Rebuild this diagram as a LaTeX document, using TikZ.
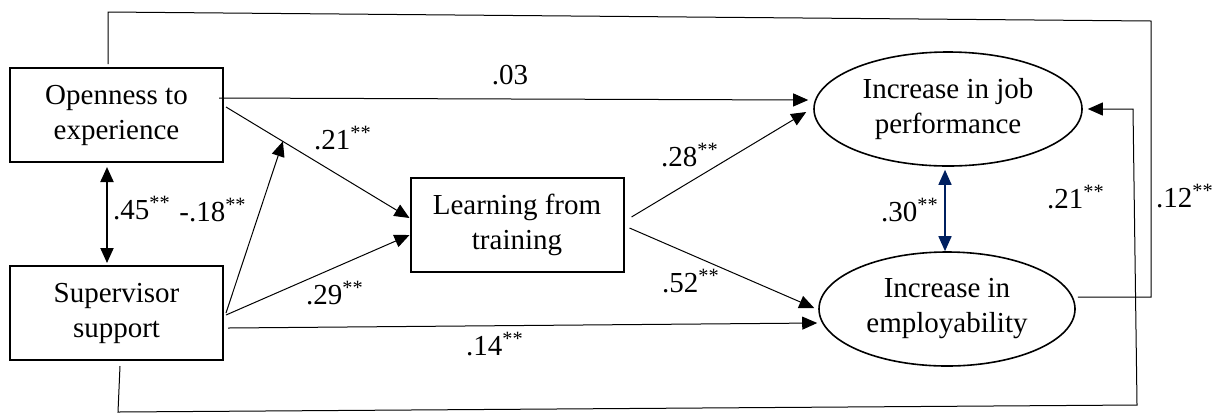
\documentclass[tikz,border=0pt]{standalone}
\usepackage{fontspec}
\setmainfont{Liberation Serif}
\usetikzlibrary{positioning,shapes.geometric,arrows.meta}
\definecolor{navy}{RGB}{0,32,96}

\begin{document}
\begin{tikzpicture}[on grid, >={Triangle[length=7.5pt,width=6.5pt]}, line width=0.5pt]
\tikzstyle{every node}=[font=\fontsize{14.5}{17.5}\selectfont]
\tikzstyle{var}=[draw, line width=1pt, rectangle, align=center, minimum width=106.5pt, minimum height=47pt]
\tikzstyle{outcome}=[draw, line width=0.8pt, ellipse, align=center, inner sep=0pt, minimum height=57pt]
\tikzstyle{coef}=[inner sep=0pt]
\useasboundingbox (0,0) rectangle (609pt,-207pt);
   \node[var](open) at (58.25pt,-57.5pt){Openness to\\experience};
   \node[var](sup)[below=99pt of open]{Supervisor\\support};
   \node[var](learn)[below right=55pt and 200.25pt of open]{Learning from\\training};
   \node[outcome, minimum width=134pt](job)[right=415.75pt of open, yshift=3pt]{Increase in job\\performance};
   \node[outcome, minimum width=128pt](emp)[right=415.25pt of sup, yshift=2pt]{Increase in\\employability};
\coordinate (tl) at (54pt,-6pt);
\coordinate (tr) at (575.5pt,-10.5pt);
\coordinate (bl) at (59pt,-206pt);
\coordinate (br) at (568.5pt,-202.5pt);
\coordinate (ur) at (566.5pt,-54.5pt);
   \draw[->] ([shift={(-2.5pt,8.5pt)}]open.east) -- ([shift={(-2.5pt,4.5pt)}]job.west);
   \draw[->] ([shift={(1pt,4pt)}]open.east) -- coordinate[pos=.31](mid) ([yshift=3.5pt]learn.west);
   \draw[->] ([xshift=1pt]sup.east) -- (mid);
   \draw[->] ([shift={(1pt,-1pt)}]sup.east) -- ([yshift=-5pt]learn.west);
   \draw[->] ([shift={(2pt,-7.5pt)}]sup.east) -- ([shift={(-0.5pt,-7pt)}]emp.west);
   \draw[->] ([shift={(3.5pt,4pt)}]learn.east) -- ([shift={(-3.5pt,-1.5pt)}]job.west);
   \draw[->] ([shift={(2.5pt,-1.5pt)}]learn.east) -- ([shift={(-2pt,0.5pt)}]emp.west);
   \draw[<->, line width=1pt] ([shift={(-4.75pt,-2pt)}]open.south) -- ([shift={(-4.75pt,1pt)}]sup.north);
   \draw[<->, navy, line width=0.8pt] ([shift={(-1.5pt,-1.5pt)}]job.south) -- ([xshift=-1pt]emp.north);
   \draw ([shift={(-4.25pt,1.5pt)}]open.north) -- (tl) -- (tr) |- ([shift={(1pt,6pt)}]emp.east);
   \draw[->] ([shift={(1.75pt,-2.5pt)}]sup.south) -- (bl) -- (br) -- (ur) -- ([xshift=2.5pt]job.east);
\node[coef](c03) at (255pt,-37.5pt){.03};
\node[coef](c21a) at (171.5pt,-69pt){.21\textsuperscript{**}};
\node[coef](c45) at (71pt,-104pt){.45\textsuperscript{**}};
\node[coef](c18) at (106.5pt,-105pt){-.18\textsuperscript{**}};
\node[coef](c29) at (167.5pt,-146.5pt){.29\textsuperscript{**}};
\node[coef](c28) at (345pt,-77.5pt){.28\textsuperscript{**}};
\node[coef](c52) at (345.5pt,-140.5pt){.52\textsuperscript{**}};
\node[coef](c14) at (247.5pt,-172pt){.14\textsuperscript{**}};
\node[coef](c30) at (455pt,-105pt){.30\textsuperscript{**}};
\node[coef](c21b) at (538pt,-98.5pt){.21\textsuperscript{**}};
\node[coef](c12) at (592.5pt,-98pt){.12\textsuperscript{**}};
\end{tikzpicture}
\end{document}
